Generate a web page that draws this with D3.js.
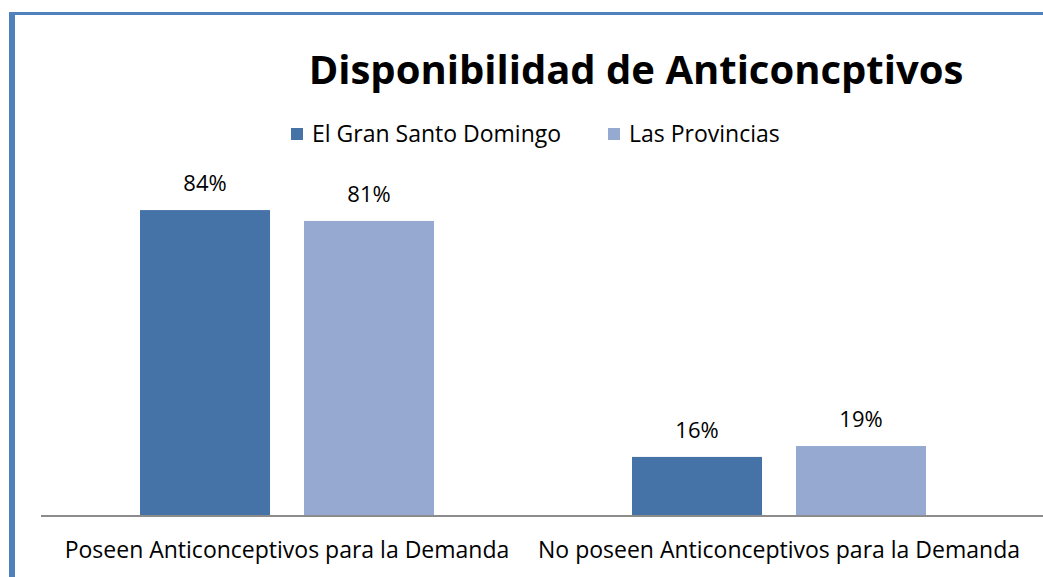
<!DOCTYPE html>
<html>
<head>
<meta charset="utf-8">
<script src="https://cdn.jsdelivr.net/npm/d3@7"></script>
<style>
  body { margin: 0; background: #fff; }
  text { font-family: "Open Sans", "Noto Sans", sans-serif; fill: #000; }
</style>
</head>
<body>
<div id="chart"></div>
<script>
var categories = ["Poseen Anticonceptivos para la Demanda", "No poseen Anticonceptivos para la Demanda"];
var series = ["El Gran Santo Domingo", "Las Provincias"];
var santoDomingo = [84, 16];
var provincias = [81, 19];
var colors = ["#4673a7", "#95a9d1"];

var w = 1043, h = 577;
var svg = d3.select("#chart").append("svg").attr("width", w).attr("height", h);

// marco azul (solo arriba y a la izquierda se ven)
svg.append("rect").attr("x", 9).attr("y", 12).attr("width", 6).attr("height", h).attr("fill", "#4f81bd");
svg.append("rect").attr("x", 9).attr("y", 12).attr("width", w).attr("height", 3).attr("fill", "#4f81bd");

var x0 = d3.scaleBand().domain(categories).range([41, 1025]);
var x1 = d3.scaleBand().domain(series).range([99, 393]).paddingInner(0.207);
var y = d3.scaleLinear().domain([0, 100]).range([515, 152]);

var rows = categories.map(function(c, i){
    return {cat: c, vals: [santoDomingo[i], provincias[i]]};
});

var g = svg.selectAll("g.grp").data(rows).enter().append("g")
    .attr("class", "grp")
    .attr("transform", function(d){ return "translate(" + x0(d.cat) + ",0)"; });

g.selectAll("rect").data(function(d){ return d.vals.map(function(v, j){ return {s: series[j], v: v, j: j}; }); })
    .enter().append("rect")
    .attr("x", function(d){ return x1(d.s); })
    .attr("y", function(d){ return y(d.v); })
    .attr("width", x1.bandwidth())
    .attr("height", function(d){ return y(0) - y(d.v); })
    .attr("fill", function(d){ return colors[d.j]; });

g.selectAll("text.lbl").data(function(d){ return d.vals.map(function(v, j){ return {s: series[j], v: v}; }); })
    .enter().append("text")
    .attr("class", "lbl")
    .attr("x", function(d){ return x1(d.s) + x1.bandwidth() / 2; })
    .attr("y", function(d){ return y(d.v) - 19; })
    .attr("text-anchor", "middle")
    .style("font-size", "22px")
    .text(function(d){ return d.v + "%"; });

// eje
svg.append("line").attr("x1", 41).attr("x2", w).attr("y1", 516).attr("y2", 516)
    .attr("stroke", "#8c8c8c").attr("stroke-width", 2);

svg.selectAll("text.cat").data(categories).enter().append("text")
    .attr("class", "cat")
    .attr("x", function(d){ return x0(d) + x0.bandwidth() / 2; })
    .attr("y", 558)
    .attr("text-anchor", "middle")
    .style("font-size", "23px")
    .text(function(d){ return d; });

// titulo
svg.append("text").attr("x", 636).attr("y", 84).attr("text-anchor", "middle")
    .style("font-size", "40px").style("font-weight", "bold")
    .text("Disponibilidad de Anticoncptivos");

// leyenda
var legX = [291, 608];
var leg = svg.selectAll("g.leg").data(series).enter().append("g")
    .attr("class", "leg")
    .attr("transform", function(d, i){ return "translate(" + legX[i] + ",128)"; });
leg.append("rect").attr("width", 12).attr("height", 12).attr("fill", function(d, i){ return colors[i]; });
leg.append("text").attr("x", 21).attr("y", 14).style("font-size", "23px").text(function(d){ return d; });
</script>
</body>
</html>
